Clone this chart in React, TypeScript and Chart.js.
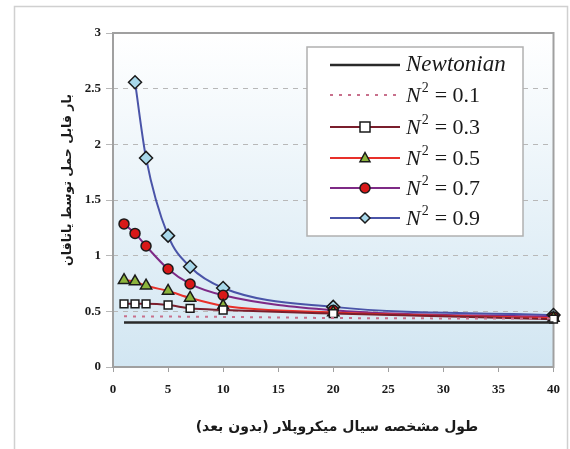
import React, { useEffect, useRef } from "react";
import { Chart, registerables } from "chart.js";

Chart.register(...registerables);

// ---- data ----
const markerX = [1, 2, 3, 5, 7, 10, 20, 40];
const newtonianX = [1, 40];
const newtonian = [0.4, 0.4];
const n01X = [1, 10, 20, 40];
const n01 = [0.455, 0.45, 0.44, 0.435];
const n03 = [0.567, 0.567, 0.567, 0.557, 0.527, 0.512, 0.48, 0.43];
const n05 = [0.78, 0.767, 0.73, 0.683, 0.62, 0.55, 0.49, 0.44];
const n07 = [1.285, 1.2, 1.087, 0.88, 0.746, 0.644, 0.51, 0.45];
const n09X = [2, 3, 5, 7, 10, 20, 40];
const n09 = [2.558, 1.878, 1.18, 0.9, 0.71, 0.54, 0.467];

const xTicks = [0, 5, 10, 15, 20, 25, 30, 35, 40];
const yTicks = [0, 0.5, 1, 1.5, 2, 2.5, 3];

const xTitle = "طول مشخصه سیال میکروپلار (بدون بعد)";
const yTitle = "بار قابل حمل توسط یاتاقان";

const legendLabels = ["Newtonian", "0.1", "0.3", "0.5", "0.7", "0.9"];

const pts = (xs: number[], ys: number[]) => xs.map((x, i) => ({ x, y: ys[i] }));

function drawMarker(ctx: CanvasRenderingContext2D, style: string, x: number, y: number, r: number, fill: string, stroke: string) {
  ctx.save();
  ctx.fillStyle = fill;
  ctx.strokeStyle = stroke;
  ctx.lineWidth = 1.5;
  ctx.setLineDash([]);
  ctx.beginPath();
  if (style === "rect") {
    ctx.rect(x - r, y - r, 2 * r, 2 * r);
  } else if (style === "triangle") {
    ctx.moveTo(x, y - r * 1.1);
    ctx.lineTo(x + r, y + r * 0.75);
    ctx.lineTo(x - r, y + r * 0.75);
    ctx.closePath();
  } else if (style === "circle") {
    ctx.arc(x, y, r, 0, Math.PI * 2);
  } else if (style === "rectRot") {
    ctx.moveTo(x, y - r);
    ctx.lineTo(x + r, y);
    ctx.lineTo(x, y + r);
    ctx.lineTo(x - r, y);
    ctx.closePath();
  }
  ctx.fill();
  ctx.stroke();
  ctx.restore();
}

export default function App() {
  const ref = useRef<HTMLCanvasElement | null>(null);

  useEffect(() => {
    const canvas = ref.current;
    if (!canvas) return;

    const bgPlugin = {
      id: "bg",
      beforeDraw(chart: any) {
        const { ctx, chartArea: a, width, height } = chart;
        ctx.save();
        ctx.fillStyle = "#ffffff";
        ctx.fillRect(0, 0, width, height);
        ctx.strokeStyle = "#d0d0d0";
        ctx.lineWidth = 1.5;
        ctx.strokeRect(14.5, 6.5, 553, 445);
        const g = ctx.createLinearGradient(0, a.top, 0, a.bottom);
        g.addColorStop(0, "#ffffff");
        g.addColorStop(1, "#d2e6f2");
        ctx.fillStyle = g;
        ctx.fillRect(a.left, a.top, a.right - a.left, a.bottom - a.top);
        ctx.restore();
      },
      beforeDatasetsDraw(chart: any) {
        const { ctx, chartArea: a } = chart;
        ctx.save();
        ctx.strokeStyle = "#a0a0a0";
        ctx.lineWidth = 2;
        ctx.strokeRect(a.left, a.top, a.right - a.left, a.bottom - a.top);
        ctx.restore();
      },
      afterDraw(chart: any) {
        const { ctx } = chart;
        ctx.save();
        // axis titles
        ctx.fillStyle = "#1a1a1a";
        ctx.textAlign = "center";
        ctx.textBaseline = "middle";
        ctx.direction = "rtl";
        ctx.font = "bold 14px 'DejaVu Sans'";
        ctx.fillText(xTitle, 337, 427);
        ctx.save();
        ctx.translate(68, 180);
        ctx.rotate(-Math.PI / 2);
        ctx.font = "bold 12.5px 'DejaVu Sans'";
        ctx.fillText(yTitle, 0, 0);
        ctx.restore();
        ctx.direction = "ltr";

        // legend
        const bx = 307, by = 47, bw = 216, bh = 189;
        ctx.fillStyle = "#ffffff";
        ctx.fillRect(bx, by, bw, bh);
        ctx.strokeStyle = "#b0b0b0";
        ctx.lineWidth = 1.5;
        ctx.strokeRect(bx, by, bw, bh);
        const rows = [65, 95, 127, 158, 188, 218];
        chart.data.datasets.forEach((ds: any, i: number) => {
          const y = rows[i];
          ctx.save();
          ctx.strokeStyle = ds.borderColor;
          ctx.lineWidth = ds.borderWidth;
          ctx.setLineDash(ds.borderDash || []);
          ctx.beginPath();
          ctx.moveTo(330, y);
          ctx.lineTo(400, y);
          ctx.stroke();
          ctx.restore();
          if (ds.pointRadius > 0) {
            drawMarker(ctx, ds.pointStyle, 365, y, 5, ds.pointBackgroundColor, ds.pointBorderColor);
          }
          ctx.fillStyle = "#1a1a1a";
          ctx.textAlign = "left";
          ctx.textBaseline = "middle";
          const label = legendLabels[i];
          if (i === 0) {
            ctx.font = "italic 23px 'Liberation Serif'";
            ctx.fillText(label, 406, y);
          } else {
            ctx.font = "italic 22px 'Liberation Serif'";
            ctx.fillText("N", 406, y + 1);
            let x = 406 + ctx.measureText("N").width + 1;
            ctx.font = "14px 'Liberation Serif'";
            ctx.fillText("2", x, y - 7);
            x += ctx.measureText("2").width + 6;
            ctx.font = "22px 'Liberation Serif'";
            ctx.fillText("= " + label, x, y + 1);
          }
        });
        ctx.restore();
      },
    };

    const common = {
      fill: false,
      cubicInterpolationMode: "monotone",
      clip: false,
      borderWidth: 2,
      pointBorderColor: "#1a1a1a",
      pointBorderWidth: 1.5,
    };

    const chart = new Chart(canvas, {
      type: "line",
      data: {
        datasets: [
          {
            ...common,
            label: "Newtonian",
            data: pts(newtonianX, newtonian),
            borderColor: "#2a2a2a",
            borderWidth: 2.5,
            pointRadius: 0,
            pointStyle: "circle",
            pointBackgroundColor: "#000",
          },
          {
            ...common,
            label: "N2=0.1",
            data: pts(n01X, n01),
            borderColor: "#c8708c",
            borderDash: [3, 6],
            pointRadius: 0,
            pointStyle: "circle",
            pointBackgroundColor: "#000",
          },
          {
            ...common,
            label: "N2=0.3",
            data: pts(markerX, n03),
            borderColor: "#7a1e2c",
            pointStyle: "rect",
            pointRadius: 5.5,
            pointBackgroundColor: "#ffffff",
          },
          {
            ...common,
            label: "N2=0.5",
            data: pts(markerX, n05),
            borderColor: "#e8302a",
            pointStyle: "triangle",
            pointRadius: 6.5,
            pointBackgroundColor: "#8cb43c",
          },
          {
            ...common,
            label: "N2=0.7",
            data: pts(markerX, n07),
            borderColor: "#7e2a86",
            pointStyle: "circle",
            pointRadius: 5,
            pointBackgroundColor: "#d81818",
          },
          {
            ...common,
            label: "N2=0.9",
            data: pts(n09X, n09),
            borderColor: "#4a54a8",
            pointStyle: "rectRot",
            pointRadius: 6.5,
            pointBackgroundColor: "#a8d8ea",
          },
        ],
      } as any,
      options: {
        responsive: false,
        animation: false,
        devicePixelRatio: 1,
        layout: { padding: { left: 0, right: 9, top: 33, bottom: 0 } },
        plugins: {
          legend: { display: false },
          tooltip: { enabled: false },
        },
        scales: {
          x: {
            type: "linear",
            min: 0,
            max: 40,
            afterBuildTicks: (s: any) => {
              s.ticks = xTicks.map((v) => ({ value: v }));
            },
            afterFit: (s: any) => {
              s.height = 449 - 367;
            },
            ticks: {
              color: "#1a1a1a",
              font: { family: "'Liberation Serif'", size: 13, weight: "bold" },
              padding: 10,
              maxRotation: 0,
              callback: (v: any) => String(v),
            },
            grid: {
              drawOnChartArea: false,
              drawTicks: true,
              tickLength: 5,
              color: "#a0a0a0",
            },
            border: { display: false },
          },
          y: {
            type: "linear",
            min: 0,
            max: 3,
            afterBuildTicks: (s: any) => {
              s.ticks = yTicks.map((v) => ({ value: v }));
            },
            afterFit: (s: any) => {
              s.width = 113;
            },
            ticks: {
              color: "#1a1a1a",
              font: { family: "'Liberation Serif'", size: 13, weight: "bold" },
              padding: 5,
              callback: (v: any) => String(v),
            },
            grid: {
              color: "#b8b8b8",
              lineWidth: 1,
              tickLength: 7,
              tickColor: "#b8b8b8",
            },
            border: { display: false, dash: [5, 5] },
          },
        },
      } as any,
      plugins: [bgPlugin],
    });

    return () => chart.destroy();
  }, []);

  return (
    <div style={{ position: "absolute", left: 0, top: 0, width: 570, height: 449 }}>
      <canvas ref={ref} width={570} height={449} style={{ width: 570, height: 449 }} />
    </div>
  );
}
